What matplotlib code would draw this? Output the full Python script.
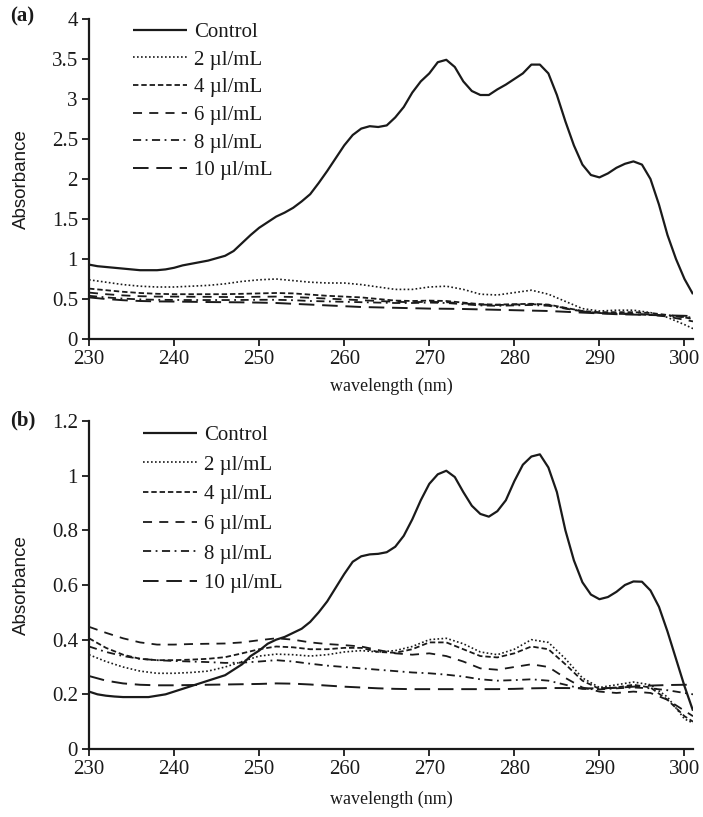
import matplotlib
matplotlib.use("Agg")
import matplotlib.pyplot as plt
from matplotlib.ticker import FuncFormatter

# ---------------- data ----------------
wl_ctrl = list(range(230, 302))
control_a = [0.93, 0.91, 0.90, 0.89, 0.88, 0.87, 0.86, 0.86, 0.86, 0.87,
             0.89, 0.92, 0.94, 0.96, 0.98, 1.01, 1.04, 1.10, 1.20, 1.30,
             1.39, 1.46, 1.53, 1.58, 1.64, 1.72, 1.81, 1.95, 2.10, 2.26,
             2.42, 2.55, 2.63, 2.66, 2.65, 2.67, 2.77, 2.90, 3.08, 3.22,
             3.32, 3.46, 3.49, 3.40, 3.22, 3.10, 3.05, 3.05, 3.12, 3.18,
             3.25, 3.32, 3.43, 3.43, 3.32, 3.05, 2.72, 2.42, 2.18, 2.05,
             2.02, 2.07, 2.14, 2.19, 2.22, 2.18, 2.00, 1.68, 1.30, 1.00,
             0.75, 0.56]
control_b = [0.21, 0.20, 0.195, 0.192, 0.19, 0.19, 0.19, 0.19, 0.195, 0.20,
             0.21, 0.22, 0.23, 0.24, 0.25, 0.26, 0.27, 0.29, 0.31, 0.34,
             0.36, 0.385, 0.40, 0.41, 0.425, 0.44, 0.465, 0.50, 0.54, 0.59,
             0.64, 0.685, 0.705, 0.712, 0.714, 0.72, 0.74, 0.78, 0.84, 0.91,
             0.97, 1.005, 1.018, 0.995, 0.94, 0.89, 0.86, 0.85, 0.87, 0.91,
             0.98, 1.04, 1.07, 1.078, 1.03, 0.94, 0.80, 0.69, 0.61, 0.565,
             0.548, 0.556, 0.575, 0.60, 0.613, 0.612, 0.58, 0.52, 0.43, 0.33,
             0.23, 0.14]

wl = list(range(230, 301, 2)) + [301]

a_2 = [0.74, 0.71, 0.68, 0.66, 0.65, 0.65, 0.66, 0.67, 0.69, 0.72,
       0.74, 0.75, 0.73, 0.71, 0.70, 0.70, 0.68, 0.65, 0.62, 0.62,
       0.65, 0.66, 0.62, 0.56, 0.55, 0.58, 0.61, 0.56, 0.47, 0.38,
       0.35, 0.36, 0.36, 0.33, 0.27, 0.18, 0.13]
a_4 = [0.63, 0.61, 0.59, 0.575, 0.565, 0.56, 0.56, 0.56, 0.56, 0.565,
       0.57, 0.575, 0.57, 0.555, 0.54, 0.53, 0.52, 0.50, 0.48, 0.475,
       0.48, 0.475, 0.455, 0.435, 0.43, 0.435, 0.44, 0.43, 0.39, 0.35,
       0.335, 0.335, 0.335, 0.325, 0.30, 0.27, 0.25]
a_6 = [0.58, 0.56, 0.545, 0.535, 0.53, 0.53, 0.528, 0.527, 0.525, 0.525,
       0.528, 0.53, 0.525, 0.515, 0.505, 0.495, 0.485, 0.475, 0.465, 0.46,
       0.465, 0.46, 0.445, 0.43, 0.425, 0.43, 0.435, 0.425, 0.385, 0.345,
       0.325, 0.32, 0.315, 0.305, 0.28, 0.24, 0.22]
a_8 = [0.54, 0.52, 0.505, 0.495, 0.49, 0.488, 0.487, 0.487, 0.487, 0.488,
       0.49, 0.49, 0.485, 0.475, 0.47, 0.465, 0.46, 0.455, 0.45, 0.45,
       0.455, 0.45, 0.435, 0.42, 0.415, 0.42, 0.425, 0.415, 0.38, 0.345,
       0.325, 0.315, 0.31, 0.30, 0.29, 0.275, 0.27]
a_10 = [0.52, 0.50, 0.485, 0.475, 0.47, 0.468, 0.465, 0.462, 0.46, 0.458,
        0.455, 0.45, 0.44, 0.43, 0.42, 0.41, 0.40, 0.395, 0.39, 0.385,
        0.38, 0.378, 0.375, 0.37, 0.365, 0.36, 0.355, 0.35, 0.34, 0.33,
        0.32, 0.31, 0.305, 0.30, 0.295, 0.29, 0.285]

b_2 = [0.345, 0.32, 0.30, 0.285, 0.277, 0.277, 0.28, 0.285, 0.30, 0.32,
       0.34, 0.347, 0.345, 0.34, 0.345, 0.355, 0.36, 0.355, 0.36, 0.375,
       0.40, 0.405, 0.385, 0.355, 0.345, 0.365, 0.40, 0.39, 0.33, 0.26,
       0.225, 0.235, 0.245, 0.235, 0.19, 0.11, 0.095]
b_4 = [0.405, 0.37, 0.345, 0.33, 0.325, 0.325, 0.327, 0.33, 0.336, 0.35,
       0.365, 0.375, 0.372, 0.365, 0.365, 0.37, 0.37, 0.355, 0.352, 0.365,
       0.39, 0.39, 0.365, 0.34, 0.335, 0.35, 0.375, 0.365, 0.31, 0.25,
       0.22, 0.225, 0.235, 0.225, 0.18, 0.12, 0.10]
b_6 = [0.447, 0.425, 0.405, 0.39, 0.382, 0.382, 0.384, 0.385, 0.386, 0.39,
       0.398, 0.405, 0.40, 0.39, 0.384, 0.38, 0.375, 0.362, 0.35, 0.345,
       0.35, 0.34, 0.32, 0.295, 0.29, 0.30, 0.31, 0.30, 0.26, 0.225,
       0.21, 0.205, 0.21, 0.205, 0.18, 0.14, 0.12]
b_8 = [0.375, 0.355, 0.34, 0.33, 0.325, 0.322, 0.32, 0.318, 0.315, 0.316,
       0.32, 0.325, 0.32, 0.312, 0.305, 0.30, 0.295, 0.29, 0.285, 0.28,
       0.277, 0.272, 0.265, 0.255, 0.25, 0.252, 0.255, 0.25, 0.235, 0.22,
       0.218, 0.222, 0.225, 0.222, 0.215, 0.205, 0.20]
b_10 = [0.267, 0.25, 0.24, 0.235, 0.233, 0.233, 0.234, 0.235, 0.236, 0.237,
        0.238, 0.24, 0.239, 0.236, 0.232, 0.228, 0.225, 0.222, 0.22, 0.219,
        0.219, 0.219, 0.219, 0.219, 0.219, 0.22, 0.222, 0.223, 0.223, 0.222,
        0.222, 0.224, 0.228, 0.232, 0.234, 0.235, 0.235]

labels = ["Control", "2 \u00b5l/mL", "4 \u00b5l/mL", "6 \u00b5l/mL", "8 \u00b5l/mL", "10 \u00b5l/mL"]
xticks = [230, 240, 250, 260, 270, 280, 290, 300]

# ---------------- style ----------------
serif = ["Liberation Serif", "DejaVu Serif"]
sans = ["Liberation Sans", "DejaVu Sans"]
plt.rcParams["font.family"] = serif
ink = "#1a1a1a"

styles = [
    dict(linestyle="-", lw=1.6),
    dict(linestyle=(0, (1.0, 1.4)), lw=1.2),
    dict(linestyle=(0, (3.0, 1.6)), lw=1.3),
    dict(linestyle=(0, (5.0, 4.0)), lw=1.3),
    dict(linestyle=(0, (4.5, 2.5, 1.0, 2.5)), lw=1.3),
    dict(linestyle=(0, (8.0, 4.0)), lw=1.4),
]

fig = plt.figure(figsize=(7.03, 8.17), dpi=100)
axA = fig.add_axes([89 / 703, (817 - 339) / 817, (693 - 89) / 703, 320 / 817])
axB = fig.add_axes([89 / 703, (817 - 749) / 817, (693 - 89) / 703, 328 / 817])

panels = [
    (axA, [control_a, a_2, a_4, a_6, a_8, a_10], (0, 4),
     [0, 0.5, 1, 1.5, 2, 2.5, 3, 3.5, 4], 0.073, 0.989, 0.385, -0.122),
    (axB, [control_b, b_2, b_4, b_6, b_8, b_10], (0, 1.2),
     [0, 0.2, 0.4, 0.6, 0.8, 1.0, 1.2], 0.089, 0.986, 0.48, -0.127),
]

for ax, series, ylim, yticks, lx, ly, lsp, xly in panels:
    for i, (vals, lab, st) in enumerate(zip(series, labels, styles)):
        xs = wl_ctrl if i == 0 else wl
        ax.plot(xs, vals, color=ink, label=lab, solid_capstyle="butt",
                dash_capstyle="butt", **st)
    ax.set_xlim(230, 301)
    ax.set_ylim(*ylim)
    ax.set_xticks(xticks)
    ax.set_yticks(yticks)
    ax.yaxis.set_major_formatter(FuncFormatter(lambda v, p: ("%g" % round(v, 2))))
    for s in ["top", "right"]:
        ax.spines[s].set_visible(False)
    for s in ["left", "bottom"]:
        ax.spines[s].set_linewidth(1.6)
        ax.spines[s].set_color(ink)
    ax.tick_params(direction="out", length=5, width=1.3, colors=ink,
                   labelsize=15, pad=3)
    ax.set_xlabel("wavelength (nm)", fontsize=13, color=ink)
    ax.xaxis.set_label_coords(0.5, xly)
    ax.set_ylabel("Absorbance", fontsize=13.5, family=sans, color=ink)
    ax.yaxis.set_label_coords(-0.098, 0.5)
    leg = ax.legend(loc="upper left", bbox_to_anchor=(lx, ly), frameon=False,
                    fontsize=15, handlelength=2.6, handletextpad=0.33,
                    labelspacing=lsp, borderaxespad=0, borderpad=0)
    for t in leg.get_texts():
        t.set_color(ink)

fig.text(10 / 703, 1 - 16 / 817, "(a)", fontsize=15, fontweight="bold",
         ha="left", va="center", color=ink)
fig.text(10 / 703, 1 - 420 / 817, "(b)", fontsize=15, fontweight="bold",
         ha="left", va="center", color=ink)

fig.savefig("out.png", dpi=100)
